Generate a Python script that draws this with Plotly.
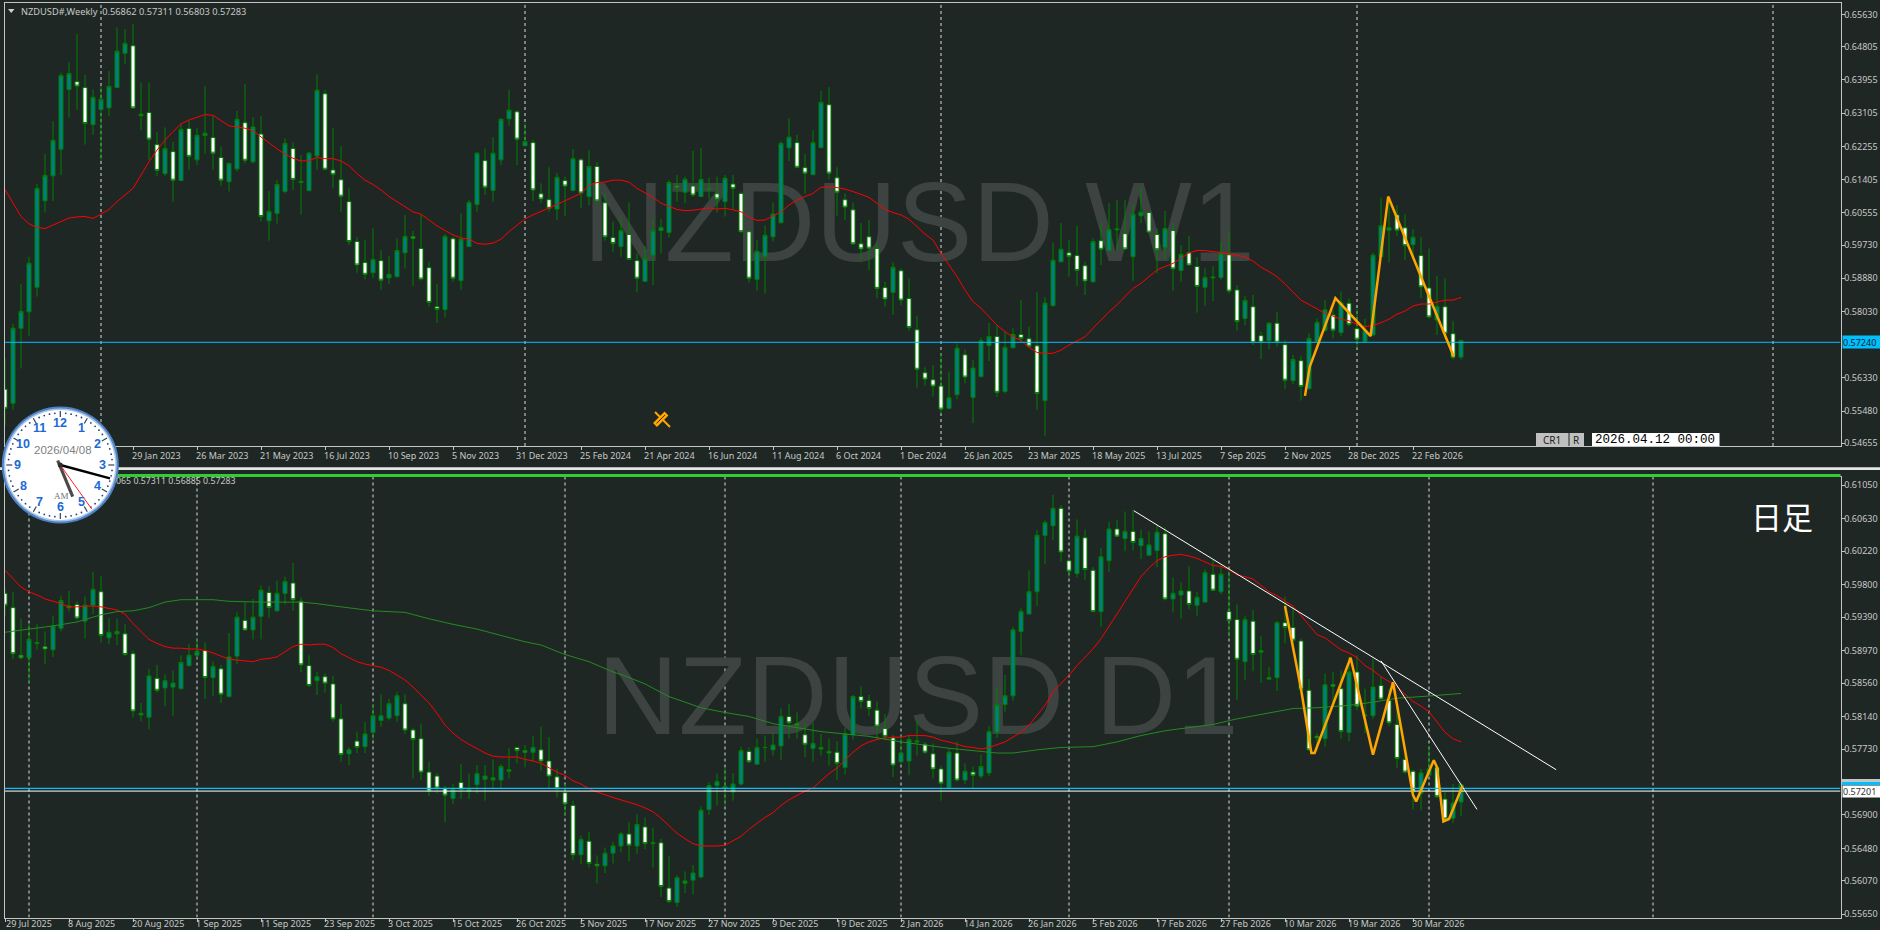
import math
import plotly.graph_objects as go

W, H = 1880, 930
BG = "#1f2724"
UI = "Noto Sans"

# ---------- weekly chart ----------
w_open = [.5604,.5568,.5760,.5802,.5865,.6086,.6150,.6218,.6371,.6391,
.6376,.6281,.6320,.6324,.6376,.6464,.6483,.6304,.6312,.6230,
.6156,.6212,.6138,.6271,.6191,.6253,.6248,.6197,.6135,.6168,
.6286,.6186,.6257,.6035,.6054,.6110,.6220,.6133,.6112,.6201,
.6360,.6165,.6140,.6084,.5982,.5928,.5902,.5933,.5889,.5892,
.5953,.5994,.5964,.5915,.5815,.5808,.5989,.5882,.5969,.6077,
.6189,.6113,.6191,.6296,.6314,.6227,.6235,.6104,.6089,.6065,
.6138,.6113,.6191,.6097,.6174,.6081,.5992,.5969,.6000,.5933,
.5880,.5947,.6010,.6005,.6124,.6108,.6124,.6097,.6116,.6104,
.6084,.6129,.6105,.6007,.5885,.5943,.5994,.6030,.6222,.6235,
.6171,.6153,.6222,.6332,.6145,.6089,.6063,.5976,.5994,.5964,
.5864,.5852,.5907,.5836,.5756,.5646,.5628,.5612,.5555,.5590,
.5692,.5583,.5636,.5716,.5739,.5598,.5710,.5744,.5733,.5715,
.5575,.5818,.5930,.5953,.5946,.5920,.5879,.5984,.5959,.6012,
.6002,.5943,.6048,.6056,.6000,.5967,.6010,.5908,.5953,.5918,
.5865,.5889,.5890,.5948,.5858,.5785,.5815,.5741,.5728,.5773,
.5718,.5626,.5677,.5605,.5726,.5755,.5794,.5749,.5824,.5759,
.5726,.5743,.5943,.6011,.6050,.6017,.5974,.5946,.5863,.5781,
.5815,.5746,.56862]
w_close = [.5555,.5760,.5803,.5926,.6118,.6151,.6241,.6407,.6412,.6380,
.6284,.6351,.6346,.6379,.6469,.6489,.6324,.6308,.6244,.6164,
.6220,.6139,.6269,.6200,.6254,.6259,.6208,.6139,.6182,.6295,
.6190,.6275,.6046,.6059,.6128,.6233,.6141,.6136,.6208,.6369,
.6167,.6154,.6098,.5982,.5922,.5898,.5936,.5883,.5898,.5959,
.5995,.5990,.5886,.5826,.5808,.5995,.5888,.5988,.6082,.6208,
.6121,.6208,.6295,.6318,.6244,.6238,.6114,.6091,.6067,.6146,
.6124,.6194,.6106,.6174,.6086,.5994,.5977,.6010,.5936,.5888,
.5938,.6010,.6018,.6133,.6121,.6141,.6101,.6141,.6118,.6091,
.6144,.6118,.6007,.5888,.5957,.5998,.6052,.6233,.6249,.6172,
.6157,.6235,.6338,.6157,.6108,.6070,.5976,.5963,.5965,.5862,
.5835,.5916,.5832,.5762,.5655,.5630,.5612,.5553,.5582,.5709,
.5635,.5658,.5728,.5739,.5596,.5711,.5744,.5734,.5714,.5593,
.5824,.5934,.5962,.5944,.5908,.5881,.5982,.5962,.6012,.6014,
.5963,.6052,.6057,.6006,.5961,.6015,.5912,.5949,.5922,.5867,
.5890,.5891,.5952,.5855,.5777,.5831,.5723,.5724,.5773,.5724,
.5627,.5680,.5611,.5734,.5775,.5807,.5755,.5825,.5770,.5732,
.5755,.5947,.6022,.6017,.6011,.5972,.5993,.5866,.5789,.5815,
.5747,.5686,.57283]
w_high = [.5683,.5771,.5873,.5943,.6129,.6206,.6290,.6414,.6441,.6513,
.6408,.6371,.6380,.6418,.6530,.6526,.6539,.6389,.6389,.6262,
.6274,.6237,.6284,.6293,.6272,.6380,.6303,.6225,.6184,.6316,
.6385,.6301,.6303,.6111,.6139,.6246,.6236,.6203,.6212,.6410,
.6370,.6272,.6226,.6118,.5994,.5986,.6016,.5960,.5945,.5990,
.6050,.6009,.6050,.5930,.5873,.6001,.5994,.6054,.6088,.6212,
.6220,.6249,.6297,.6370,.6318,.6284,.6242,.6131,.6172,.6158,
.6148,.6219,.6195,.6216,.6185,.6105,.6033,.6046,.6082,.5952,
.5971,.6041,.6039,.6139,.6152,.6148,.6214,.6221,.6146,.6148,
.6152,.6152,.6110,.6012,.5986,.6023,.6081,.6238,.6297,.6255,
.6206,.6267,.6367,.6377,.6172,.6105,.6081,.6029,.6037,.5979,
.5879,.5929,.5913,.5888,.5792,.5660,.5666,.5696,.5649,.5721,
.5706,.5679,.5736,.5773,.5768,.5752,.5760,.5832,.5764,.5852,
.5839,.5979,.6029,.5986,.6022,.5930,.5990,.6031,.6080,.6088,
.6088,.6078,.6121,.6058,.6016,.6060,.6031,.5973,.5996,.5942,
.5913,.5919,.5982,.6007,.5871,.5842,.5845,.5751,.5775,.5801,
.5730,.5692,.5690,.5747,.5785,.5832,.5807,.5854,.5836,.5811,
.5784,.5953,.6094,.6096,.6075,.6052,.6014,.5994,.5964,.5894,
.5888,.5779,.57311]
w_low = [.5512,.5551,.5657,.5740,.5841,.6056,.6086,.6152,.6299,.6319,
.6230,.6255,.6188,.6303,.6376,.6436,.6322,.6267,.6191,.6150,
.6150,.6084,.6138,.6165,.6178,.6206,.6165,.6124,.6110,.6161,
.6182,.6182,.6033,.5984,.6028,.6105,.6114,.6051,.6112,.6165,
.6165,.6118,.6058,.5973,.5902,.5885,.5888,.5858,.5873,.5890,
.5913,.5868,.5882,.5815,.5773,.5788,.5879,.5858,.5969,.6058,
.6101,.6084,.6178,.6278,.6178,.6227,.6086,.6080,.6058,.6037,
.6047,.6110,.6067,.6075,.6084,.5984,.5956,.5943,.5935,.5852,
.5879,.5871,.5952,.5992,.6084,.6080,.6097,.6097,.6090,.6056,
.6046,.6063,.6005,.5877,.5856,.5849,.5982,.6029,.6188,.6169,
.6104,.6152,.6221,.6141,.6048,.6037,.5973,.5937,.5909,.5837,
.5815,.5794,.5819,.5754,.5608,.5613,.5585,.5542,.5553,.5578,
.5619,.5517,.5636,.5676,.5585,.5593,.5709,.5726,.5713,.5551,
.5485,.5815,.5929,.5892,.5868,.5845,.5877,.5922,.5956,.5960,
.5960,.5881,.6029,.6003,.5901,.5937,.5856,.5879,.5920,.5800,
.5817,.5830,.5884,.5849,.5754,.5768,.5717,.5681,.5707,.5713,
.5605,.5617,.5575,.5605,.5722,.5751,.5734,.5740,.5764,.5709,
.5723,.5740,.5941,.5928,.5996,.5935,.5939,.5837,.5785,.5743,
.5734,.5680,.56803]
w_ma = [.6115,.6080,.6046,.6027,.6018,.6015,.6024,.6035,.6042,.6045,
.6046,.6041,.6052,.6064,.6084,.6101,.6118,.6152,.6186,.6216,
.6242,.6263,.6283,.6293,.6301,.6307,.6305,.6291,.6278,.6275,
.6272,.6265,.6250,.6233,.6219,.6206,.6195,.6188,.6189,.6197,
.6194,.6194,.6188,.6176,.6156,.6139,.6128,.6114,.6097,.6084,
.6071,.6058,.6052,.6037,.6022,.6010,.5999,.5991,.5988,.5977,
.5975,.5978,.5988,.6007,.6024,.6040,.6050,.6058,.6068,.6077,
.6086,.6095,.6105,.6126,.6133,.6134,.6139,.6139,.6134,.6118,
.6107,.6095,.6080,.6071,.6064,.6061,.6062,.6065,.6068,.6065,
.6067,.6063,.6058,.6044,.6036,.6037,.6047,.6058,.6075,.6088,
.6097,.6105,.6121,.6122,.6120,.6116,.6110,.6103,.6095,.6080,
.6064,.6056,.6050,.6039,.6020,.6001,.5986,.5952,.5922,.5892,
.5858,.5828,.5811,.5790,.5768,.5751,.5738,.5728,.5711,.5698,
.5695,.5696,.5704,.5717,.5727,.5738,.5760,.5781,.5802,.5820,
.5841,.5862,.5875,.5892,.5909,.5918,.5926,.5939,.5953,.5959,
.5959,.5956,.5954,.5950,.5946,.5943,.5932,.5916,.5905,.5892,
.5873,.5853,.5832,.5821,.5809,.5798,.5791,.5783,.5779,.5770,
.5764,.5767,.5774,.5783,.5796,.5804,.5817,.5822,.5822,.5828,
.5832,.5832,.5839]
w_zig_bars = [163.5, 164.1, 167.3, 171.7, 173.9, 182.1]
w_zig_vals = [.5587, .5662, .5837, .5740, .6097, .5687]
w_grid_bars = [13, 66, 118, 170, 222]
w_price_line = 0.5724
w_tick_labels = ["29 Jan 2023","26 Mar 2023","21 May 2023","16 Jul 2023","10 Sep 2023","5 Nov 2023",
"31 Dec 2023","25 Feb 2024","21 Apr 2024","16 Jun 2024","11 Aug 2024","6 Oct 2024","1 Dec 2024",
"26 Jan 2025","23 Mar 2025","18 May 2025","13 Jul 2025","7 Sep 2025","2 Nov 2025","28 Dec 2025","22 Feb 2026"]
w_tick_first_bar = 17
w_prices = [.65630,.64805,.63955,.63105,.62255,.61405,.60555,.59730,.58880,.58030,.56330,.55480,.54655]

# ---------- daily chart ----------
d_open = [.5969,.5951,.5891,.5888,.5906,.5902,.5898,.5925,.5953,.5955,
.5934,.5954,.5971,.5913,.5918,.5918,.5893,.5816,.5813,.5862,
.5850,.5851,.5849,.5878,.5891,.5897,.5863,.5874,.5839,.5890,
.5935,.5923,.5940,.5970,.5947,.5969,.5982,.5959,.5878,.5859,
.5864,.5855,.5811,.5767,.5783,.5776,.5794,.5809,.5812,.5815,
.5830,.5797,.5786,.5744,.5739,.5723,.5711,.5731,.5720,.5728,
.5735,.5734,.5734,.5745,.5775,.5771,.5769,.5772,.5758,.5738,
.5718,.5702,.5640,.5657,.5628,.5626,.5642,.5651,.5666,.5651,
.5675,.5654,.5655,.5598,.5580,.5604,.5608,.5612,.5697,.5727,
.5724,.5719,.5729,.5770,.5754,.5775,.5772,.5777,.5814,.5805,
.5791,.5774,.5775,.5768,.5769,.5750,.5791,.5839,.5834,.5822,
.5799,.5787,.5757,.5758,.5782,.5779,.5767,.5748,.5724,.5768,
.5734,.5744,.5739,.5743,.5794,.5829,.5840,.5921,.5943,.5971,
.6042,.6054,.6076,.6010,.5994,.6039,.5998,.5946,.6010,.6050,
.6038,.6047,.6029,.6017,.6023,.6044,.5962,.5967,.5972,.5954,
.5958,.5993,.5971,.5946,.5936,.5883,.5934,.5895,.5861,.5863,
.5932,.5926,.5909,.5847,.5789,.5786,.5854,.5849,.5794,.5870,
.5815,.5815,.5853,.5834,.5804,.5760,.5745,.5717,.5740,.5750,
.5710,.5686,.57065]
d_close = [.5954,.5893,.5888,.5911,.5907,.5899,.5928,.5960,.5951,.5938,
.5954,.5974,.5916,.5920,.5921,.5892,.5821,.5818,.5865,.5847,
.5859,.5856,.5882,.5891,.5896,.5863,.5877,.5842,.5889,.5939,
.5923,.5939,.5973,.5951,.5969,.5984,.5961,.5879,.5853,.5864,
.5856,.5811,.5766,.5772,.5775,.5792,.5815,.5815,.5830,.5840,
.5797,.5785,.5744,.5720,.5724,.5715,.5722,.5722,.5722,.5742,
.5739,.5737,.5751,.5747,.5771,.5769,.5775,.5758,.5739,.5723,
.5704,.5640,.5659,.5629,.5626,.5642,.5651,.5666,.5652,.5678,
.5654,.5655,.5600,.5581,.5611,.5607,.5617,.5696,.5727,.5732,
.5726,.5729,.5771,.5757,.5775,.5775,.5778,.5814,.5806,.5803,
.5779,.5780,.5773,.5770,.5755,.5792,.5839,.5833,.5824,.5802,
.5789,.5753,.5768,.5785,.5783,.5769,.5748,.5730,.5769,.5734,
.5745,.5740,.5751,.5795,.5829,.5840,.5923,.5946,.5971,.6042,
.6058,.6076,.6021,.5997,.6041,.5999,.5946,.6015,.6050,.6041,
.6047,.6033,.6038,.6030,.6046,.5962,.5969,.5972,.5955,.5964,
.5995,.5973,.5993,.5935,.5886,.5936,.5892,.5897,.5863,.5932,
.5926,.5910,.5848,.5772,.5787,.5854,.5852,.5795,.5870,.5827,
.5816,.5851,.5836,.5806,.5761,.5744,.5719,.5743,.5748,.5713,
.5685,.5705,.57283]
d_high = [.5975,.5971,.5937,.5931,.5930,.5921,.5941,.5966,.5972,.5959,
.5965,.5996,.5991,.5938,.5937,.5930,.5897,.5831,.5874,.5879,
.5867,.5872,.5891,.5905,.5913,.5907,.5883,.5879,.5919,.5945,
.5958,.5962,.5979,.5978,.5985,.5990,.6007,.5964,.5891,.5870,
.5868,.5865,.5830,.5775,.5795,.5807,.5830,.5842,.5836,.5845,
.5842,.5800,.5805,.5757,.5743,.5727,.5729,.5754,.5742,.5753,
.5753,.5760,.5754,.5774,.5776,.5778,.5789,.5801,.5788,.5748,
.5729,.5708,.5664,.5669,.5639,.5649,.5656,.5669,.5681,.5691,
.5687,.5674,.5660,.5638,.5614,.5619,.5627,.5701,.5731,.5742,
.5750,.5743,.5776,.5775,.5786,.5790,.5794,.5824,.5830,.5819,
.5805,.5806,.5792,.5786,.5783,.5800,.5841,.5852,.5841,.5833,
.5817,.5791,.5790,.5790,.5809,.5782,.5780,.5752,.5773,.5782,
.5755,.5751,.5766,.5802,.5850,.5866,.5927,.5950,.5998,.6049,
.6061,.6093,.6080,.6014,.6062,.6049,.6002,.6026,.6059,.6061,
.6072,.6074,.6049,.6047,.6055,.6052,.5989,.5983,.6003,.5971,
.5999,.6011,.6003,.5997,.5955,.5941,.5948,.5915,.5876,.5934,
.5965,.5952,.5912,.5861,.5793,.5868,.5870,.5872,.5889,.5891,
.5849,.5887,.5864,.5849,.5830,.5775,.5747,.5748,.5777,.5753,
.5719,.5729,.57311]
d_low = [.5940,.5886,.5886,.5856,.5898,.5880,.5889,.5921,.5946,.5935,
.5912,.5943,.5907,.5905,.5904,.5890,.5813,.5808,.5798,.5844,
.5827,.5815,.5848,.5877,.5887,.5836,.5840,.5831,.5839,.5880,
.5922,.5911,.5911,.5938,.5946,.5955,.5947,.5870,.5851,.5841,
.5844,.5807,.5757,.5753,.5768,.5768,.5784,.5801,.5809,.5807,
.5792,.5736,.5734,.5714,.5717,.5681,.5704,.5710,.5710,.5717,
.5708,.5723,.5723,.5736,.5755,.5750,.5757,.5746,.5723,.5712,
.5690,.5633,.5628,.5624,.5604,.5617,.5629,.5643,.5632,.5641,
.5647,.5624,.5587,.5579,.5574,.5592,.5590,.5610,.5690,.5702,
.5702,.5708,.5727,.5755,.5754,.5757,.5765,.5759,.5786,.5786,
.5763,.5757,.5765,.5752,.5734,.5741,.5785,.5824,.5815,.5786,
.5784,.5738,.5755,.5740,.5765,.5767,.5736,.5708,.5723,.5732,
.5729,.5724,.5736,.5739,.5787,.5820,.5834,.5891,.5943,.5953,
.6006,.6036,.6009,.5989,.5989,.5986,.5946,.5927,.5996,.6041,
.6022,.6023,.6012,.6017,.6002,.5960,.5945,.5937,.5949,.5941,
.5958,.5972,.5968,.5914,.5835,.5860,.5871,.5856,.5861,.5846,
.5906,.5903,.5848,.5772,.5771,.5776,.5830,.5786,.5783,.5822,
.5793,.5811,.5836,.5802,.5749,.5742,.5697,.5696,.5740,.5711,
.5681,.5680,.56885]
d_ma_red = [.5998,.5988,.5977,.5971,.5967,.5962,.5959,.5956,.5952,.5952,
.5953,.5953,.5952,.5950,.5948,.5943,.5931,.5921,.5911,.5906,
.5902,.5900,.5900,.5899,.5899,.5897,.5894,.5890,.5886,.5885,
.5884,.5883,.5886,.5887,.5889,.5895,.5902,.5905,.5904,.5905,
.5905,.5901,.5893,.5888,.5883,.5880,.5878,.5876,.5872,.5866,
.5860,.5851,.5841,.5831,.5818,.5803,.5793,.5785,.5779,.5773,
.5768,.5764,.5763,.5763,.5763,.5760,.5758,.5755,.5749,.5744,
.5740,.5733,.5729,.5723,.5719,.5715,.5712,.5709,.5706,.5703,
.5699,.5694,.5686,.5676,.5667,.5660,.5654,.5651,.5651,.5651,
.5652,.5657,.5663,.5672,.5680,.5687,.5693,.5702,.5709,.5715,
.5720,.5724,.5733,.5742,.5749,.5759,.5769,.5777,.5782,.5785,
.5787,.5788,.5788,.5790,.5790,.5790,.5788,.5784,.5782,.5779,
.5776,.5775,.5773,.5775,.5778,.5782,.5788,.5794,.5803,.5815,
.5828,.5845,.5855,.5866,.5878,.5889,.5899,.5912,.5927,.5943,
.5959,.5975,.5990,.6001,.6010,.6015,.6017,.6018,.6016,.6013,
.6009,.6004,.6003,.5999,.5992,.5990,.5987,.5979,.5971,.5966,
.5959,.5953,.5941,.5929,.5917,.5913,.5906,.5898,.5894,.5888,
.5878,.5872,.5864,.5858,.5852,.5842,.5833,.5827,.5820,.5807,
.5794,.5786,.5782]
d_ma_green_bars = [1,4,7,10,13,15,17,19,21,23,27,29,33,38,40,43,47,51,54,57,60,63,66,68,71,74,77,
78,81,84,88,91,94,97,100,103,106,109,113,116,119,122,125,127,130,133,137,140,143,146,149,152,155,
160,162,165,169,172,175,178,181,183]
d_ma_green = [.5920,.5924,.5928,.5933,.5942,.5946,.5947,.5951,.5958,.5961,.5961,.5959,.5958,.5958,.5956,.5952,.5947,.5945,.5937,.5930,.5924,.5916,.5908,.5904,.5892,.5883,.5870,
.5867,.5855,.5839,.5825,.5819,.5814,.5805,.5800,.5795,.5792,.5789,.5782,.5778,.5774,.5771,.5768,.5768,.5772,.5775,.5776,.5782,.5790,.5796,.5800,.5804,.5811,
.5820,.5824,.5825,.5828,.5832,.5837,.5839,.5841,.5843]
d_zig_bars = [161, 163, 164.3, 164.7, 169.2, 172, 174.5, 177, 177.4, 179.6, 180, 180.8, 181.5, 183.2]
d_zig_vals = [.5953, .5849, .5768, .5768, .5888, .5766, .5857, .5715, .5707, .5759, .5750, .5682, .5685, .5727]
d_trend1_bars = [142.1, 194.9]
d_trend1_vals = [.6073, .5747]
d_trend2_bars = [173.0, 185.0]
d_trend2_vals = [.5884, .5697]
d_grid_bars = [4, 25, 47, 71, 91, 113, 134, 154, 179, 207]
d_bid_line = 0.57235
d_ask_line = 0.57201
d_tick_labels = ["29 Jul 2025","8 Aug 2025","20 Aug 2025","1 Sep 2025","11 Sep 2025","23 Sep 2025","3 Oct 2025",
"15 Oct 2025","26 Oct 2025","5 Nov 2025","17 Nov 2025","27 Nov 2025","9 Dec 2025","19 Dec 2025","2 Jan 2026",
"14 Jan 2026","26 Jan 2026","5 Feb 2026","17 Feb 2026","27 Feb 2026","10 Mar 2026","19 Mar 2026","30 Mar 2026"]
d_tick_first_bar = 1
d_prices = [.61050,.60630,.60220,.59800,.59390,.58970,.58560,.58140,.57730,.56900,.56480,.56070,.55650]

# ---------- helpers and page geometry ----------
def fx(x): return x / W
def fy(y): return 1 - y / H

L_PX, R_PX = 4.5, 1840.5
def bar_at(x): return (x - 5) / 8 + 1
X_RANGE = [bar_at(L_PX), bar_at(R_PX)]
P1 = dict(top=2.7, bot=446.0)
P2 = dict(top=476.5, bot=917.5)
def price1(y): return 0.65630 - (y - 14.5) * (0.65630 - 0.54655) / (443.3 - 14.5)
def price2(y): return 0.61050 - (y - 485.3) * (0.61050 - 0.55650) / (914.3 - 485.3)
Y1 = [price1(P1["bot"]), price1(P1["top"])]
Y2 = [price2(P2["bot"]), price2(P2["top"])]
BULL_LINE, BULL_FILL, BEAR_FILL = "#008000", "#008080", "#ffffff"

fig = go.Figure()

def grid(bars, yr, xa, ya):
    xs, ys = [], []
    for b in bars:
        xs += [b, b, None]
        ys += [yr[0], yr[1], None]
    fig.add_trace(go.Scatter(x=xs, y=ys, mode="lines", xaxis=xa, yaxis=ya, hoverinfo="skip",
                             line=dict(color="#dcdcdc", width=1, dash="3px,3px")))

def watermark(text, bar, price, size, xa, ya):
    fig.add_trace(go.Scatter(x=[bar], y=[price], mode="text", text=[text], textposition="middle center",
                             xaxis=xa, yaxis=ya, hoverinfo="skip",
                             textfont=dict(family="Liberation Sans", size=size, color="#3c4341")))

def candles(o, h, l, c, xa, ya):
    n = list(range(1, len(o) + 1))
    fig.add_trace(go.Candlestick(x=n, open=o, high=h, low=l, close=c, xaxis=xa, yaxis=ya, hoverinfo="skip",
        whiskerwidth=0,
        increasing=dict(line=dict(color=BULL_LINE, width=1), fillcolor=BULL_FILL),
        decreasing=dict(line=dict(color=BULL_LINE, width=1), fillcolor=BEAR_FILL)))

def line(x, y, color, width, xa, ya):
    fig.add_trace(go.Scatter(x=x, y=y, mode="lines", xaxis=xa, yaxis=ya, hoverinfo="skip",
                             line=dict(color=color, width=width)))

# weekly
grid(w_grid_bars, Y1, "x", "y")
watermark("NZDUSD W1", bar_at(919), price1(233), 113, "x", "y")
candles(w_open, w_high, w_low, w_close, "x2", "y2")
line(list(range(1, len(w_ma) + 1)), w_ma, "#ff0000", 1, "x2", "y2")
line(X_RANGE, [w_price_line, w_price_line], "#00bfff", 1, "x2", "y2")
line(w_zig_bars, w_zig_vals, "#ffa500", 2.5, "x2", "y2")
# daily
grid(d_grid_bars, Y2, "x3", "y3")
watermark("NZDUSD D1", bar_at(918), price2(706), 112, "x3", "y3")
candles(d_open, d_high, d_low, d_close, "x4", "y4")
line(list(range(1, len(d_ma_red) + 1)), d_ma_red, "#ff0000", 1, "x4", "y4")
line(d_ma_green_bars, d_ma_green, "#228b22", 1, "x4", "y4")
line(X_RANGE, [d_bid_line, d_bid_line], "#00bfff", 1.2, "x4", "y4")
line(X_RANGE, [d_ask_line, d_ask_line], "#ffffff", 1, "x4", "y4")
line(d_trend1_bars, d_trend1_vals, "#ffffff", 1, "x4", "y4")
line(d_trend2_bars, d_trend2_vals, "#ffffff", 1, "x4", "y4")
line(d_zig_bars, d_zig_vals, "#ffa500", 2.5, "x4", "y4")

AX = "#c4c4c4"
TF = dict(family=UI, size=9, color="#c8c8c8")
def base_x(dom_anchor, ticks):
    return dict(domain=[fx(L_PX), fx(R_PX)], range=X_RANGE, anchor=dom_anchor, showgrid=False, zeroline=False,
                showline=True, mirror=True, linecolor=AX, linewidth=1, ticks="outside", ticklen=3, tickcolor=AX,
                tickvals=ticks, showticklabels=False, rangeslider=dict(visible=False), fixedrange=True)
def base_y(panel, yr, prices, anchor):
    return dict(domain=[fy(panel["bot"]), fy(panel["top"])], range=yr, anchor=anchor, side="right", showgrid=False,
                zeroline=False, showline=True, mirror=True, linecolor=AX, linewidth=1, ticks="outside", ticklen=3,
                tickcolor=AX, tickvals=prices, ticktext=[f"{p:.5f}" for p in prices], tickfont=TF,
                automargin=False, ticklabelstandoff=-2, fixedrange=True)
def over_x(base, anchor):
    return dict(domain=[fx(L_PX), fx(R_PX)], range=X_RANGE, overlaying=base, anchor=anchor, visible=False,
                rangeslider=dict(visible=False), fixedrange=True)
def over_y(base, yr, anchor, panel):
    return dict(domain=[fy(panel["bot"]), fy(panel["top"])], range=yr, overlaying=base, anchor=anchor, visible=False, fixedrange=True)

w_ticks = [w_tick_first_bar + 8 * i for i in range(len(w_tick_labels))]
d_ticks = [d_tick_first_bar + 8 * i for i in range(len(d_tick_labels))]

ann = []
def text(x, y, s, size=9, color="#c8c8c8", family=UI, xanchor="left", xref="paper", yref="paper", **kw):
    ann.append(dict(x=x, y=y, text=s, xref=xref, yref=yref, xanchor=xanchor, yanchor="middle", showarrow=False,
                    font=dict(family=family, size=size, color=color), borderpad=0, **kw))

for b, s in zip(w_ticks, w_tick_labels):
    text(max(b - 0.25, X_RANGE[0] + 0.002), fy(456), s, xref="x2")
for b, s in zip(d_ticks, d_tick_labels):
    text(max(b - 0.25, X_RANGE[0] + 0.002), fy(923.5), s, xref="x4")

text(fx(20), fy(11), "NZDUSD#,Weekly  0.56862 0.57311 0.56803 0.57283", size=9.25, color="#c8c8c8")
text(fx(115), fy(481.5), "065 0.57311 0.56885 0.57283", size=8.8, color="#c8c8c8")
text(fx(1781.5), fy(515), "日足", size=31, color="#ffffff", family="Noto Sans CJK JP", xanchor="center")
text(fx(1552), fy(439.5), "CR1", size=10, color="#222222", xanchor="center")
text(fx(1576.5), fy(439.5), "R", size=10, color="#222222", xanchor="center")
text(fx(1655), fy(439.5), "2026.04.12 00:00", size=12.5, color="#000000", family="Liberation Mono", xanchor="center")

# price flags
ann.append(dict(x=fx(1842), y=w_price_line, xref="paper", yref="y", xanchor="left", yanchor="middle", showarrow=False,
                text="0.57240", width=37, height=12, bgcolor="#00bfff", align="left", borderpad=0,
                font=dict(family=UI, size=9, color="#12222a")))
ann.append(dict(x=fx(1842), y=d_ask_line, xref="paper", yref="y3", xanchor="left", yanchor="middle", showarrow=False,
                text="0.57201", width=37, height=11, bgcolor="#ffffff", align="left", borderpad=0,
                font=dict(family=UI, size=9, color="#333333")))

shapes = []
def rect(x0, y0, x1, y1, fill, line_color=None):
    shapes.append(dict(type="rect", xref="paper", yref="paper", x0=fx(x0), x1=fx(x1), y0=fy(y0), y1=fy(y1),
                       fillcolor=fill, line=dict(color=line_color or fill, width=0 if not line_color else 1), layer="above"))
def seg(x0, y0, x1, y1, color, width):
    shapes.append(dict(type="line", xref="paper", yref="paper", x0=fx(x0), x1=fx(x1), y0=fy(y0), y1=fy(y1),
                       line=dict(color=color, width=width), layer="above"))
def circle(cx, cy, r, fill):
    shapes.append(dict(type="circle", xref="paper", yref="paper", x0=fx(cx - r), x1=fx(cx + r), y0=fy(cy + r), y1=fy(cy - r),
                       fillcolor=fill, line=dict(width=0), layer="above"))

# window separators and buttons
rect(0, 467.3, W, 470, "#e6e6e6")
rect(L_PX, 474, R_PX, 477, "#32cd32")
rect(1842, 779, W, 782, "#c4c4c4")
rect(1842, 782, W, 785, "#00bfff")
rect(1536, 433, 1568.5, 446, "#c0c0c0")
rect(1569.5, 433, 1584, 446, "#c0c0c0")
rect(1592, 433, 1719.5, 446, "#ffffff")
# chart menu triangle
shapes.append(dict(type="path", xref="paper", yref="paper", layer="above", fillcolor="#d0d0d0", line=dict(width=0),
                   path=f"M {fx(8)} {fy(9)} L {fx(14.5)} {fy(9)} L {fx(11.2)} {fy(13)} Z"))
# pencil icon
seg(655, 412, 670, 427, "#ffa500", 2)
seg(655, 425, 666.5, 413.5, "#ffa500", 5.5)
seg(656.5, 423.5, 665, 415, "#3a3018", 1)

# clock
CX, CY = 60.3, 465.0
circle(CX, CY, 58.5, "#4f82c4")
circle(CX, CY, 56.5, "#a9c6ea")
circle(CX, CY, 55, "#ffffff")
for i in range(60):
    a = math.radians(i * 6)
    sx, sy = math.sin(a), -math.cos(a)
    if i % 5 == 0:
        seg(CX + 48 * sx, CY + 48 * sy, CX + 54 * sx, CY + 54 * sy, "#30405a", 1.2)
    else:
        circle(CX + 52 * sx, CY + 52 * sy, 0.9, "#27407a")
for i in range(1, 13):
    a = math.radians(i * 30)
    text(fx(CX + 42.5 * math.sin(a)), fy(CY - 42.5 * math.cos(a)), str(i), size=12.5, color="#1c69d4",
         family="Liberation Sans", xanchor="center", )
    ann[-1]["font"]["weight"] = "bold"
text(fx(62.5), fy(450), "2026/04/08", size=11.5, color="#808080", family="Liberation Sans", xanchor="center")
text(fx(61.7), fy(495.7), "AM", size=9, color="#707070", family="Liberation Serif", xanchor="center")
seg(57.7, 460.5, 72.7, 496.7, "#4a4a4a", 3.2)
seg(CX, 465, 110, 478.3, "#000000", 2.4)
seg(CX, 465, 91.7, 509, "#ff2020", 1)
circle(CX, 465, 2.5, "#303030")

layout = dict(
    width=W, height=H, margin=dict(l=0, r=0, t=0, b=0, pad=0), autosize=False,
    paper_bgcolor=BG, plot_bgcolor=BG, showlegend=False, boxgap=0.5, boxgroupgap=0, hovermode=False,
    xaxis=base_x("y", w_ticks), yaxis=base_y(P1, Y1, w_prices, "x"),
    xaxis2=over_x("x", "y2"), yaxis2=over_y("y", Y1, "x2", P1),
    xaxis3=base_x("y3", d_ticks), yaxis3=base_y(P2, Y2, d_prices, "x3"),
    xaxis4=over_x("x3", "y4"), yaxis4=over_y("y3", Y2, "x4", P2),
    shapes=shapes, annotations=ann,
)
fig.update_layout(**layout)
fig.write_html("out.html", config=dict(displayModeBar=False),
               post_script="document.body.style.margin='0';document.body.style.overflow='hidden';")
